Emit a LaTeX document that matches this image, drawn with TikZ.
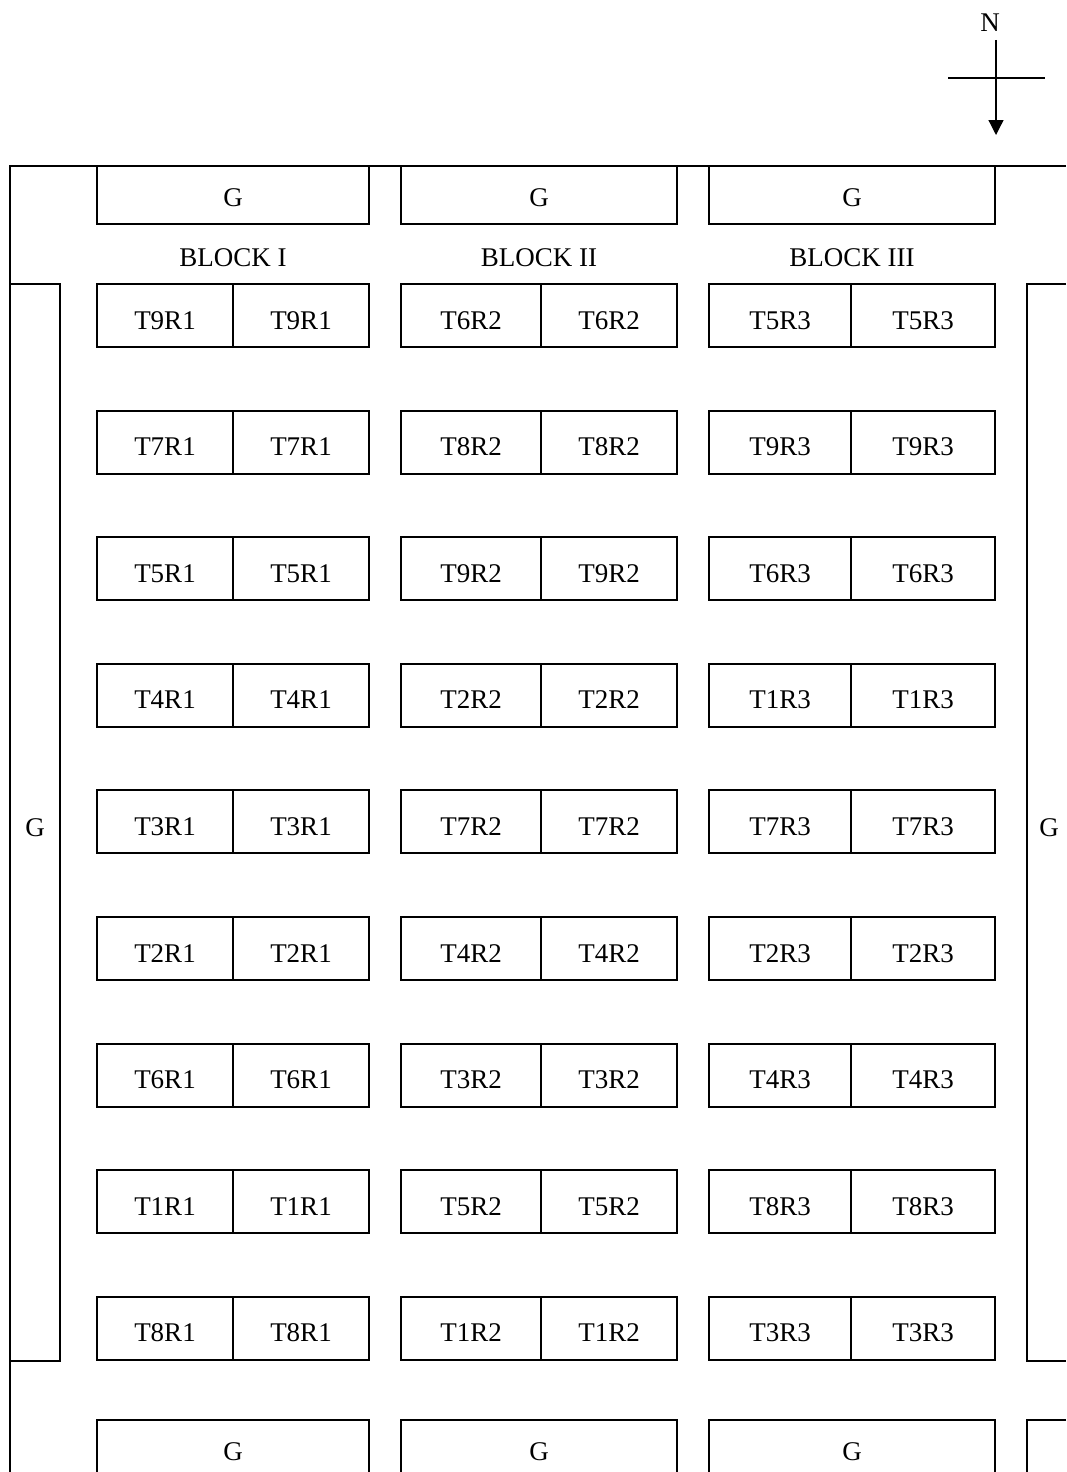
\documentclass[tikz,border=0pt]{standalone}
\usepackage{fontspec}
\setmainfont{Liberation Serif}
\usetikzlibrary{arrows.meta}
\begin{document}
\begin{tikzpicture}[x=1pt,y=-1pt,
  frame/.style={line width=2pt},
  cell/.style={draw,line width=2pt,rectangle,inner sep=0pt,outer sep=0pt,minimum height=63pt,text height=27pt,text depth=0pt,font=\fontsize{27}{32}\selectfont},
  lbl/.style={font=\fontsize{27}{32}\selectfont,inner sep=0pt},
  compass/.style={line width=1.3pt}]
\useasboundingbox (0,0) rectangle (1066,1472);
% outer frame
\draw[frame] (1066,166) -- (10,166) -- (10,1472);
\draw[frame] (10,284) -- (60,284) -- (60,1361) -- (10,1361);
\draw[frame] (1066,284) -- (1027,284) -- (1027,1361) -- (1066,1361);
\draw[frame] (1066,1420) -- (1027,1420) -- (1027,1472);
% guard plots
\foreach \l/\r/\n in {97/369/1,401/677/2,709/995/3}{
  \draw[frame] (\l,166) rectangle (\r,224);
  \node[lbl] (gt\n) at ({(\l+\r)/2},198) {G};
  \draw[frame] (\l,1472) -- (\l,1420) -- (\r,1420) -- (\r,1472);
  \node[lbl] (gb\n) at ({(\l+\r)/2},1452) {G};
}
\node[lbl] (b1) at (233,258) {BLOCK I};
\node[lbl] (b2) at (539,258) {BLOCK II};
\node[lbl] (b3) at (852,258) {BLOCK III};
\node[lbl] (gl) at (35,828) {G};
\node[lbl] (gr) at (1049,828) {G};
% plots
\foreach \a/\b/\c [count=\k from 0] in {T9R1/T6R2/T5R3,T7R1/T8R2/T9R3,T5R1/T9R2/T6R3,T4R1/T2R2/T1R3,T3R1/T7R2/T7R3,T2R1/T4R2/T2R3,T6R1/T3R2/T4R3,T1R1/T5R2/T8R3,T8R1/T1R2/T3R3}{
  \pgfmathsetmacro\yc{284+126.6*\k+31.5}
  \node[cell,minimum width=136pt] (p\k a1) at (165,\yc) {\a};
  \node[cell,minimum width=136pt] (p\k a2) at (301,\yc) {\a};
  \node[cell,minimum width=140pt] (p\k b1) at (471,\yc) {\b};
  \node[cell,minimum width=136pt] (p\k b2) at (609,\yc) {\b};
  \node[cell,minimum width=142pt] (p\k c1) at (780,\yc) {\c};
  \node[cell,minimum width=144pt] (p\k c2) at (923,\yc) {\c};
}
% compass
\node[lbl] (north) at (990,23) {N};
\coordinate (ctop) at (996,40);
\coordinate (cbot) at (996,135);
\coordinate (cw) at (948,78);
\coordinate (ce) at (1045,78);
\draw[compass,-{Triangle[length=15pt,width=15pt]}] (ctop) -- (cbot);
\draw[compass] (cw) -- (ce);
\end{tikzpicture}
\end{document}
